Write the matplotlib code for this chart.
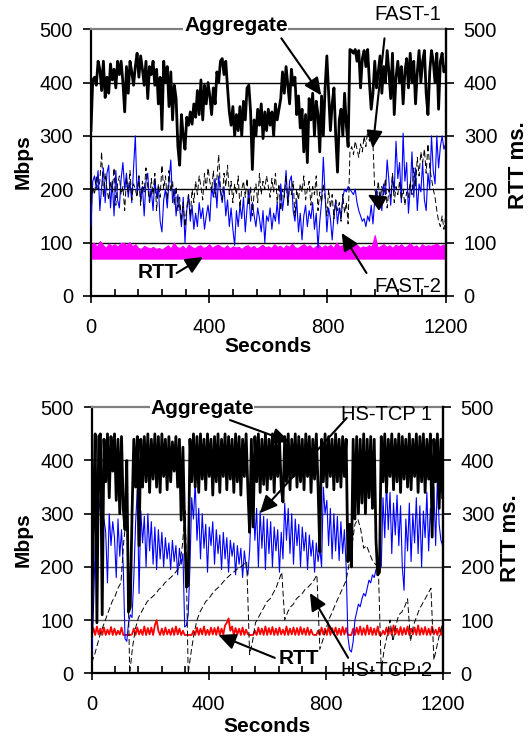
import numpy as np
import matplotlib.pyplot as plt
from matplotlib.ticker import MultipleLocator

plt.rcParams['font.family'] = ['Liberation Sans', 'DejaVu Sans']

# sample times (seconds)
t6 = np.arange(0, 1201, 6)
t10 = np.arange(0, 1201, 10)

# ---- top panel: FAST ----
agg_fast = [
    310, 405, 410, 395, 440, 425, 385, 440, 372, 410, 380, 435, 405, 425, 390, 440, 415, 440, 400, 345,
    430, 380, 440, 420, 395, 430, 455, 410, 450, 425, 395, 440, 370, 430, 415, 440, 395, 425, 360, 410,
    312, 440, 400, 430, 355, 420, 330, 395, 370, 280, 245, 340, 300, 275, 335, 320, 345, 322, 360, 335,
    385, 340, 405, 330, 395, 360, 400, 375, 340, 390, 360, 420, 400, 440, 445, 415, 440, 390, 345, 320,
    355, 300, 340, 310, 355, 300, 365, 330, 390, 395, 345, 237, 330, 300, 350, 320, 360, 295, 345, 310,
    350, 320, 345, 300, 360, 330, 350, 370, 420, 380, 430, 395, 360, 425, 395, 410, 340, 375, 315, 350,
    270, 340, 250, 370, 330, 380, 300, 365, 340, 270, 375, 300, 390, 450, 380, 310, 360, 390, 300, 232,
    330, 350, 300, 380, 320, 280, 462, 460, 455, 462, 440, 460, 390, 445, 460, 430, 462, 400, 350, 380,
    440, 390, 420, 450, 380, 430, 400, 460, 420, 370, 455, 340, 410, 440, 400, 430, 360, 420, 445, 390,
    455, 400, 440, 360, 420, 460, 400, 440, 460, 380, 340, 420, 460, 440, 400, 455, 350, 440, 455, 420,
    430]
fast1 = [
    175, 205, 190, 225, 200, 215, 270, 185, 230, 200, 180, 215, 195, 240, 170, 210, 225, 190, 205, 160,
    220, 195, 235, 180, 210, 200, 185, 225, 170, 215, 195, 240, 205, 175, 220, 190, 230, 160, 210, 185,
    245, 200, 225, 180, 235, 195, 215, 170, 205, 160, 185, 140, 175, 130, 165, 190, 150, 200, 175, 215,
    190, 225, 205, 180, 230, 200, 240, 215, 195, 235, 185, 220, 265, 200, 180, 230, 205, 245, 190, 215,
    175, 210, 190, 225, 165, 200, 215, 185, 220, 170, 205, 150, 195, 210, 175, 230, 190, 215, 200, 225,
    205, 185, 220, 195, 230, 175, 210, 160, 200, 185, 225, 170, 205, 190, 215, 150, 200, 180, 210, 195,
    225, 180, 200, 215, 170, 205, 190, 225, 160, 195, 175, 210, 185, 150, 200, 165, 190, 145, 180, 160,
    175, 140, 190, 155, 175, 135, 270, 280, 265, 290, 275, 260, 285, 270, 300, 280, 310, 290, 300, 285,
    200, 185, 215, 175, 205, 190, 220, 165, 200, 185, 230, 175, 205, 190, 215, 180, 200, 170, 195, 185,
    215, 190, 240, 205, 260, 225, 270, 250, 275, 230, 285, 240, 220, 200, 185, 160, 140, 130, 150, 125,
    150]
fast2 = [
    130, 215, 225, 200, 235, 160, 205, 240, 175, 230, 245, 165, 215, 150, 235, 180, 165, 220, 250, 200,
    230, 185, 215, 175, 240, 300, 190, 225, 180, 205, 150, 215, 230, 175, 200, 160, 220, 185, 205, 140,
    120, 180, 200, 165, 215, 255, 175, 200, 150, 190, 165, 130, 185, 100, 160, 190, 140, 170, 125, 155,
    130, 175, 145, 165, 125, 150, 170, 140, 205, 185, 220, 165, 225, 195, 175, 205, 150, 180, 130, 165,
    125, 95, 160, 130, 170, 145, 185, 120, 165, 200, 140, 175, 150, 130, 165, 145, 120, 160, 100, 150,
    140, 165, 125, 155, 140, 175, 135, 210, 160, 190, 235, 170, 215, 225, 160, 140, 180, 120, 155, 105,
    150, 170, 130, 160, 145, 175, 125, 155, 90, 140, 175, 260, 190, 120, 165, 145, 105, 150, 180, 135,
    165, 145, 185, 200, 195, 205, 200, 195, 190, 200, 175, 160, 150, 140, 145, 130, 150, 140, 170, 135,
    180, 200, 175, 195, 160, 210, 190, 255, 215, 170, 225, 195, 290, 220, 250, 175, 305, 215, 250, 155,
    200, 270, 185, 240, 160, 210, 195, 250, 180, 160, 230, 200, 300, 235, 210, 300, 240, 280, 300, 275,
    285]
rtt_fast_hi = [
    95, 100, 92, 103, 96, 90, 98, 94, 97, 92,
    99, 100, 95, 101, 93, 97, 90, 88, 94, 91,
    89, 92, 88, 90, 87, 91, 95, 89, 100, 92,
    90, 94, 88, 96, 92, 89, 93, 95, 90, 92,
    97, 90, 94, 96, 92, 90, 95, 89, 93, 91,
    92, 88, 93, 95, 90, 94, 89, 92, 96, 91,
    93, 90, 97, 92, 94, 89, 95, 92, 98, 91,
    90, 94, 97, 92, 95, 89, 93, 96, 90, 95,
    92, 96, 90, 100, 93, 95, 91, 97, 92, 94,
    96, 90, 93, 91, 95, 92, 114, 90, 94, 97,
    92, 95, 90, 96, 93, 97, 91, 94, 99, 92,
    95, 90, 97, 93, 95, 94, 96, 98, 93, 96,
    95]
rtt_fast_lo = 70

# ---- bottom panel: HS-TCP ----
agg_hs = [
    70, 300, 450, 95, 445, 450, 110, 440, 360, 450, 330, 445, 380, 450, 325, 440, 300, 445, 310, 270,
    400, 115, 125, 300, 440, 350, 445, 240, 440, 350, 445, 360, 450, 340, 440, 365, 450, 350, 445, 340,
    450, 370, 440, 345, 445, 360, 435, 380, 445, 350, 440, 288, 425, 270, 162, 165, 440, 360, 450, 350,
    445, 340, 450, 365, 440, 345, 450, 370, 440, 335, 445, 360, 450, 340, 440, 370, 450, 345, 445, 365,
    440, 340, 450, 360, 445, 335, 440, 370, 450, 345, 265, 440, 275, 445, 360, 450, 340, 440, 355, 450,
    345, 440, 365, 450, 340, 445, 370, 440, 350, 322, 445, 360, 450, 345, 440, 370, 450, 350, 445, 360,
    440, 345, 450, 370, 445, 340, 440, 365, 450, 350, 228, 440, 360, 450, 350, 445, 370, 440, 345, 450,
    360, 440, 350, 445, 370, 440, 210, 280, 200, 440, 290, 445, 300, 440, 320, 450, 300, 440, 330, 445,
    310, 440, 250, 185, 190, 445, 360, 450, 340, 440, 370, 450, 345, 440, 360, 450, 340, 445, 365, 440,
    350, 450, 345, 440, 370, 450, 340, 445, 360, 450, 340, 440, 365, 450, 256, 440, 360, 450, 310, 440,
    330]
hs1 = [
    35, 120, 240, 300, 330, 300, 244, 290, 265, 170, 300, 240, 285, 255, 180, 290, 220, 270, 200, 65,
    60, 95, 110, 105, 180, 280, 345, 150, 305, 245, 295, 200, 300, 230, 285, 205, 275, 195, 270, 215,
    265, 200, 255, 215, 245, 195, 250, 210, 240, 185, 235, 205, 225, 87, 90, 110, 200, 330, 290, 360,
    250, 310, 215, 300, 235, 280, 190, 275, 240, 285, 205, 270, 225, 260, 195, 265, 215, 255, 190, 250,
    220, 245, 185, 240, 205, 235, 180, 230, 200, 185, 230, 320, 330, 250, 310, 200, 305, 235, 295, 195,
    290, 225, 285, 200, 275, 230, 270, 190, 265, 215, 320, 250, 310, 225, 300, 205, 290, 240, 280, 200,
    275, 230, 265, 195, 260, 220, 250, 190, 245, 210, 235, 200, 350, 300, 325, 240, 310, 215, 300, 230,
    295, 212, 285, 225, 270, 200, 69, 44, 40, 60, 100, 115, 130, 125, 140, 150, 145, 160, 175, 170,
    185, 180, 195, 200, 210, 200, 330, 255, 360, 270, 340, 225, 320, 260, 335, 240, 315, 200, 156, 290,
    230, 320, 210, 300, 245, 330, 225, 315, 200, 305, 255, 340, 230, 310, 260, 350, 240, 370, 280, 250,
    240]
hs2 = [
    20, 35, 55, 75, 90, 105, 120, 135, 145, 160,
    170, 250, 300, 0, 50, 85, 105, 115, 125, 135,
    140, 145, 150, 158, 162, 170, 175, 180, 185, 192,
    200, 240, 305, 0, 40, 75, 100, 115, 125, 135,
    140, 148, 155, 160, 165, 172, 178, 183, 188, 192,
    197, 200, 205, 210, 35, 60, 95, 105, 115, 125,
    135, 140, 150, 160, 175, 190, 100, 115, 125, 130,
    140, 145, 150, 158, 162, 168, 175, 185, 45, 62,
    80, 100, 112, 125, 138, 150, 162, 175, 205, 240,
    280, 290, 270, 235, 240, 225, 212, 205, 200, 5,
    45, 70, 100, 60, 90, 110, 115, 125, 140, 60,
    90, 105, 120, 130, 140, 150, 160, 25, 50, 75,
    95]
rtt_hs = [
    72, 85, 72, 88, 73, 84, 72, 86, 72, 82, 73, 87, 72, 84, 72, 80, 73, 86, 72, 72,
    72, 72, 72, 73, 84, 72, 86, 73, 82, 72, 88, 72, 85, 73, 86, 72, 90, 100, 80, 72,
    84, 72, 86, 73, 82, 72, 85, 72, 88, 73, 84, 72, 80, 72, 72, 72, 72, 72, 80, 72,
    86, 72, 84, 73, 88, 72, 82, 72, 86, 73, 85, 72, 87, 72, 84, 73, 90, 95, 103, 80,
    88, 72, 85, 73, 84, 72, 86, 72, 82, 73, 72, 72, 72, 80, 72, 86, 73, 84, 72, 88,
    72, 85, 73, 87, 72, 84, 72, 86, 73, 82, 72, 88, 72, 84, 73, 86, 72, 85, 72, 87,
    73, 84, 72, 86, 72, 82, 73, 72, 72, 80, 72, 86, 73, 84, 72, 88, 72, 85, 73, 86,
    72, 84, 72, 87, 73, 85, 72, 72, 72, 84, 72, 86, 73, 88, 72, 85, 72, 90, 73, 86,
    72, 84, 72, 88, 72, 72, 80, 73, 86, 72, 85, 72, 90, 73, 84, 72, 87, 72, 85, 73,
    88, 72, 84, 73, 86, 72, 90, 72, 85, 73, 87, 72, 84, 72, 88, 73, 82, 72, 86, 72,
    90]

x_ticks = [0, 400, 800, 1200]
y_ticks = [0, 100, 200, 300, 400, 500]
TICK_FS = 14.5
NOTE_FS = 14.5


def style(ax, grid_color):
    ax.set_xlim(0, 1200)
    ax.set_ylim(0, 500)
    ax.set_xticks(x_ticks)
    ax.xaxis.set_minor_locator(MultipleLocator(80))
    ax.set_yticks(y_ticks)
    ax.tick_params(axis='x', which='major', direction='inout', length=10, width=1.2,
                   labelsize=TICK_FS, pad=11)
    ax.tick_params(axis='x', which='minor', direction='in', length=5, width=1.2)
    ax.tick_params(axis='y', direction='out', length=6, width=1.2, labelsize=TICK_FS, pad=7)
    for y in y_ticks[1:-1]:
        ax.axhline(y, color=grid_color, lw=1.0, zorder=1)
    for s in ('left', 'bottom', 'right'):
        ax.spines[s].set_linewidth(1.6)
    ax.spines['right'].set_color('#404040')
    ax.spines['top'].set_color('#808080')
    ax.spines['top'].set_linewidth(1.6)
    tw = ax.twinx()
    tw.set_ylim(0, 500)
    tw.set_yticks(y_ticks)
    tw.tick_params(axis='y', direction='out', length=6, width=1.2, labelsize=TICK_FS, pad=7)
    for s in ('left', 'bottom', 'top'):
        tw.spines[s].set_visible(False)
    tw.spines['right'].set_linewidth(1.6)
    return tw


def arrow(ax, tail, head):
    ax.annotate('', xy=head, xytext=tail, annotation_clip=False, zorder=8,
                arrowprops=dict(arrowstyle='-|>,head_length=0.75,head_width=0.35',
                                lw=1.5, color='k', shrinkA=0, shrinkB=0,
                                mutation_scale=14))


fig = plt.figure(figsize=(5.29, 7.38), dpi=100)
ax1 = fig.add_axes([0.172, 0.599, 0.6705, 0.3614])
ax2 = fig.add_axes([0.1733, 0.0877, 0.6635, 0.3604])

# top
style(ax1, 'black')
ax1.fill_between(t10, rtt_fast_lo, rtt_fast_hi, color='#FF00FF', lw=0.8, zorder=2)
ax1.plot(t6, fast2, color='#0000FF', lw=0.8, zorder=3)
ax1.plot(t6, fast1, color='black', lw=0.7, ls=(0, (6, 3)), zorder=3)
ax1.plot(t6, agg_fast, color='black', lw=2.0, zorder=4)

ax1.text(490, 507, 'Aggregate', fontsize=15, fontweight='bold', ha='center', va='center',
         bbox=dict(fc='white', ec='none', pad=0.5), zorder=7)
arrow(ax1, (644, 483), (779, 376))
ax1.text(1071, 528, 'FAST-1', fontsize=NOTE_FS, ha='center', va='center', zorder=7)
arrow(ax1, (993, 483), (953, 277))
ax1.text(1071, 17, 'FAST-2', fontsize=NOTE_FS, ha='center', va='center', zorder=7)
arrow(ax1, (932, 43), (848, 118))
arrow(ax1, (986, 174), (936, 190))
ax1.text(227, 44, 'RTT', fontsize=15, fontweight='bold', ha='center', va='center', zorder=7)
arrow(ax1, (290, 43), (379, 73))

# bottom
style(ax2, '#505050')
ax2.plot(t6, rtt_hs, color='#FF0000', lw=1.3, zorder=2)
ax2.plot(t6, hs1, color='#0000FF', lw=0.8, zorder=3)
ax2.plot(t10, hs2, color='black', lw=0.7, ls=(0, (6, 3)), zorder=3)
ax2.plot(t6, agg_hs, color='black', lw=2.0, zorder=4)

ax2.text(377, 497, 'Aggregate', fontsize=15, fontweight='bold', ha='center', va='center',
         bbox=dict(fc='white', ec='none', pad=0.5), zorder=7)
arrow(ax2, (473, 476), (677, 435))
ax2.text(1008, 487, 'HS-TCP 1', fontsize=NOTE_FS, ha='center', va='center', zorder=7)
arrow(ax2, (872, 480), (575, 301))
ax2.text(1008, 6, 'HS-TCP 2', fontsize=NOTE_FS, ha='center', va='center', zorder=7)
arrow(ax2, (877, 29), (746, 151))
ax2.text(709, 27, 'RTT', fontsize=15, fontweight='bold', ha='center', va='center', zorder=7)
arrow(ax2, (626, 29), (433, 72))

# axis titles
W, H = 529.0, 738.0
lab = dict(fontsize=15, fontweight='bold', ha='center', va='center')
fig.text(23 / W, 1 - 162 / H, 'Mbps', rotation=90, **lab)
fig.text(519 / W, 1 - 165 / H, 'RTT ms.', rotation=90, fontsize=16, fontweight='bold',
         ha='center', va='center')
fig.text(268 / W, 1 - 347 / H, 'Seconds', **lab)
fig.text(23 / W, 1 - 540 / H, 'Mbps', rotation=90, **lab)
fig.text(511 / W, 1 - 538 / H, 'RTT ms.', rotation=90, fontsize=16, fontweight='bold',
         ha='center', va='center')
fig.text(267 / W, 1 - 727 / H, 'Seconds', **lab)

fig.savefig('out.png', dpi=100)
